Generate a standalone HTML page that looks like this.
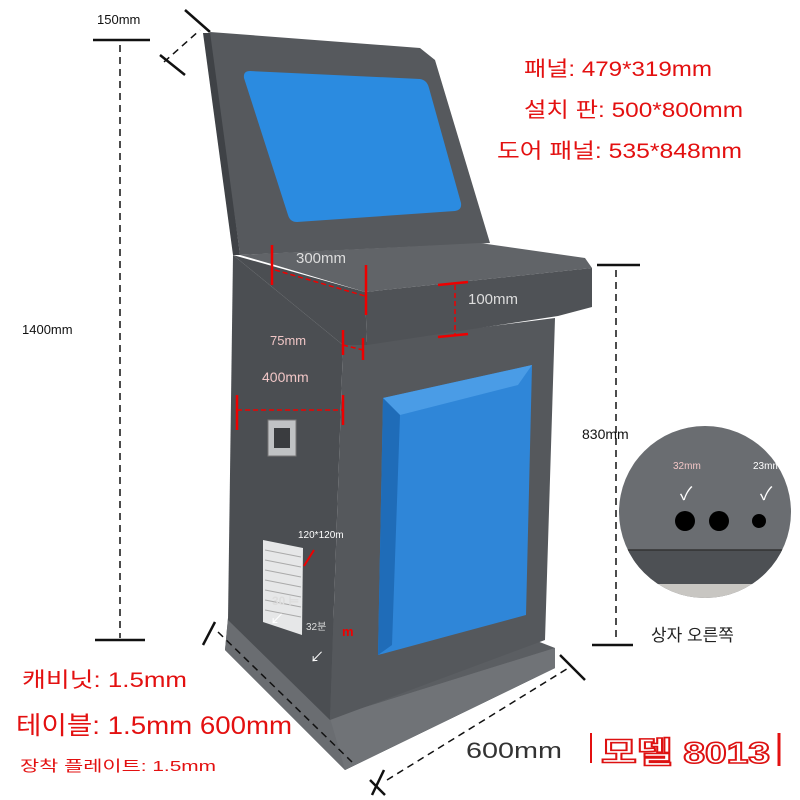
<!DOCTYPE html>
<html><head><meta charset="utf-8"><style>
html,body{margin:0;padding:0;background:#fff;}
svg{display:block}
text{font-family:"Liberation Sans","Noto Sans CJK KR",sans-serif;}
</style></head><body>
<svg width="800" height="800" viewBox="0 0 800 800" xmlns="http://www.w3.org/2000/svg">
<rect width="800" height="800" fill="#fff"/>
<!-- base -->
<polygon points="228,618 483,620 555,648 555,668 345,770 225,650" fill="#5b5e62"/>
<polygon points="228,618 330,718 555,648 555,668 345,770 225,650" fill="#6a6d71"/>
<polygon points="330,718 555,648 555,668 345,770" fill="#707377"/>
<!-- body left face -->
<polygon points="233,255 343,345 330,720 228,620" fill="#4b4e52"/>
<!-- body front face -->
<polygon points="343,345 555,318 545,640 330,720" fill="#55585c"/>
<!-- blue door -->
<polygon points="383,398 532,365 526,615 378,655" fill="#2f86d8"/>
<polygon points="383,398 532,365 518,385 400,415" fill="#4a9ce6"/>
<polygon points="400,415 392,645 378,655 383,398" fill="#1f6cb8"/>
<!-- head side face -->
<polygon points="203,33 212,33 240,255 233,255" fill="#3f4246"/>
<!-- head front face -->
<polygon points="210,32 420,48 435,60 490,243 240,255" fill="#56595d"/>
<!-- screen -->
<path d="M250,71 L420,79 Q427,80 429,88 L461,203 Q462,210 455,211 L297,222 Q290,222 288,215 L244,78 Q243,71 250,71 Z" fill="#2b8be0"/>
<!-- shelf top -->
<polygon points="240,255 480,243 585,258 592,268 365,292 275,265" fill="#616468"/>
<!-- shelf front lip -->
<polygon points="365,292 592,268 592,307 558,316 367,345" fill="#4f5256"/>
<!-- side of body below shelf -->
<polygon points="240,257 365,292 367,345 343,345 233,255" fill="#4b4e52"/>
<!-- handle -->
<rect x="268" y="420" width="28" height="36" fill="#c0c2c4" stroke="#777" stroke-width="1"/>
<rect x="274" y="428" width="16" height="20" fill="#3a3c3f"/>
<!-- vent -->
<polygon points="263,540 303,548 302,635 263,622" fill="#e6e7e8"/>
<g stroke="#aaa" stroke-width="1">
<line x1="265" y1="550" x2="301" y2="557"/><line x1="265" y1="560" x2="301" y2="567"/><line x1="265" y1="570" x2="301" y2="577"/><line x1="265" y1="580" x2="301" y2="587"/><line x1="265" y1="590" x2="301" y2="597"/><line x1="265" y1="600" x2="301" y2="607"/><line x1="265" y1="610" x2="301" y2="617"/>
</g>
<!-- dimension lines black -->
<g stroke="#111" stroke-width="2.5" fill="none">
<line x1="93" y1="40" x2="150" y2="40"/>
<line x1="95" y1="640" x2="145" y2="640"/>
<line x1="160" y1="55" x2="185" y2="75"/>
<line x1="185" y1="10" x2="210" y2="32"/>
<line x1="597" y1="265" x2="640" y2="265"/>
<line x1="592" y1="645" x2="633" y2="645"/>
<line x1="215" y1="622" x2="203" y2="645"/>
<line x1="384" y1="770" x2="372" y2="795"/>
<line x1="560" y1="655" x2="585" y2="680"/>
<line x1="370" y1="780" x2="385" y2="795"/>
</g>
<g stroke="#111" stroke-width="1.5" stroke-dasharray="7,5" fill="none">
<line x1="120" y1="45" x2="120" y2="638"/>
<line x1="616" y1="270" x2="616" y2="640"/>
<line x1="164" y1="62" x2="200" y2="30"/>
<line x1="218" y1="632" x2="352" y2="762"/>
<line x1="387" y1="780" x2="570" y2="667"/>
</g>
<!-- red dimension marks -->
<g stroke="#e00" stroke-width="2.5" fill="none">
<line x1="272" y1="245" x2="272" y2="285"/>
<line x1="366" y1="265" x2="366" y2="315"/>
<line x1="438" y1="285" x2="468" y2="282"/>
<line x1="438" y1="337" x2="468" y2="334"/>
<line x1="343" y1="330" x2="343" y2="355"/>
<line x1="363" y1="338" x2="363" y2="360"/>
<line x1="237" y1="395" x2="237" y2="430"/>
<line x1="343" y1="395" x2="343" y2="425"/>
</g>
<g stroke="#e00" stroke-width="1.5" stroke-dasharray="5,3" fill="none">
<line x1="275" y1="270" x2="365" y2="296"/>
<line x1="455" y1="285" x2="455" y2="335"/>
<line x1="343" y1="345" x2="363" y2="350"/>
<line x1="237" y1="410" x2="343" y2="410"/>
</g>
<line x1="314" y1="550" x2="304" y2="566" stroke="#e00" stroke-width="2"/>
<!-- inset circle -->
<defs><clipPath id="c"><circle cx="705" cy="512" r="86"/></clipPath></defs>
<g clip-path="url(#c)">
<rect x="615" y="420" width="180" height="185" fill="#6a6d71"/>
<rect x="615" y="550" width="180" height="34" fill="#4d5054"/>
<rect x="615" y="584" width="180" height="30" fill="#c8c6c2"/>
<line x1="615" y1="550" x2="795" y2="550" stroke="#333" stroke-width="1.5"/>
<circle cx="685" cy="521" r="10" fill="#000"/>
<circle cx="719" cy="521" r="10" fill="#000"/>
<circle cx="759" cy="521" r="7" fill="#000"/>
</g>
<text x="673" y="469" font-size="10" fill="#f2c6c6">32mm</text>
<text x="753" y="469" font-size="10" fill="#fff">23mm</text>
<text x="680" y="500" font-size="18" fill="#fff">✓</text>
<text x="760" y="500" font-size="18" fill="#fff">✓</text>
<text x="651" y="641" font-size="17" fill="#222">상자 오른쪽</text>
<!-- labels -->
<text x="97" y="24" font-size="13" fill="#111">150mm</text>
<text x="22" y="334" font-size="13" fill="#111">1400mm</text>
<text x="582" y="439" font-size="14" fill="#111">830mm</text>
<text x="296" y="263" font-size="15" fill="#ddd">300mm</text>
<text x="468" y="304" font-size="15" fill="#ddd">100mm</text>
<text x="270" y="345" font-size="13" fill="#f0c6c6">75mm</text>
<text x="262" y="382" font-size="14" fill="#f0c6c6">400mm</text>
<text x="298" y="538" font-size="10" fill="#fff">120*120m</text>
<text x="272" y="605" font-size="12" fill="#ddd" font-weight="bold">30 ⊨</text>
<text x="306" y="630" font-size="10" fill="#ddd">32분</text>
<text x="342" y="636" font-size="13" fill="#e00" font-weight="bold">m</text>
<text x="270" y="624" font-size="14" fill="#fff">↙</text>
<text x="310" y="662" font-size="14" fill="#fff">↙</text>
<text x="524" y="76" font-size="21" fill="#e31010" textLength="188" lengthAdjust="spacingAndGlyphs">패널: 479*319mm</text>
<text x="524" y="117" font-size="21" fill="#e31010" textLength="219" lengthAdjust="spacingAndGlyphs">설치 판: 500*800mm</text>
<text x="497" y="158" font-size="21" fill="#e31010" textLength="245" lengthAdjust="spacingAndGlyphs">도어 패널: 535*848mm</text>
<text x="22" y="687" font-size="21" fill="#e31010" textLength="165" lengthAdjust="spacingAndGlyphs">캐비닛: 1.5mm</text>
<text x="16" y="734" font-size="25" fill="#e31010" textLength="276" lengthAdjust="spacingAndGlyphs">테이블: 1.5mm 600mm</text>
<text x="20" y="771" font-size="15" fill="#e31010" textLength="196" lengthAdjust="spacingAndGlyphs">장착 플레이트: 1.5mm</text>
<text x="466" y="758" font-size="22" fill="#333" textLength="96" lengthAdjust="spacingAndGlyphs">600mm</text>
<line x1="591" y1="733" x2="591" y2="763" stroke="#e31010" stroke-width="2"/>
<line x1="779" y1="733" x2="779" y2="766" stroke="#e31010" stroke-width="3"/>
<text x="601" y="763" font-size="30" fill="#fff" stroke="#d11" stroke-width="1.6" font-weight="bold" textLength="169" lengthAdjust="spacingAndGlyphs">모델 8013</text>
</svg>
</body></html>
